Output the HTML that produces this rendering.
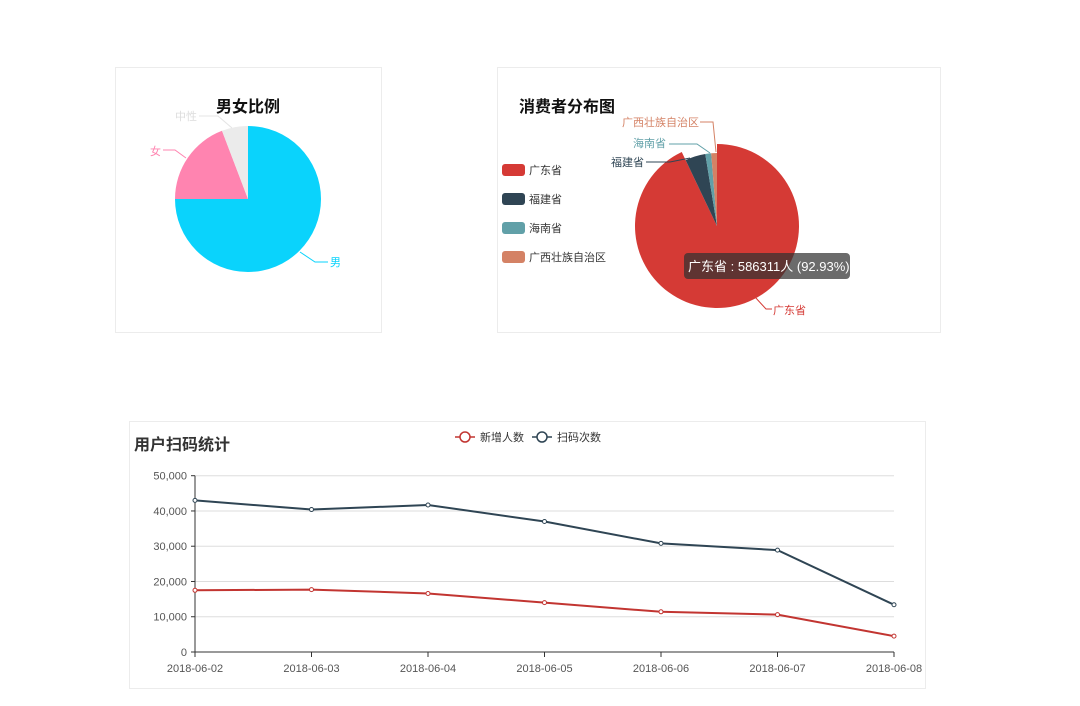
<!DOCTYPE html>
<html><head><meta charset="utf-8"><style>
html,body{margin:0;padding:0;background:#fff;}
body{width:1080px;height:706px;position:relative;overflow:hidden;font-family:"Liberation Sans","Noto Sans CJK SC",sans-serif;}
.panel{position:absolute;border:1px solid #ececec;box-sizing:border-box;}
svg{position:absolute;left:0;top:0;}
svg text{font-family:"Liberation Sans","Noto Sans CJK SC",sans-serif;}
</style></head><body>
<div class="panel" style="left:115px;top:67px;width:267px;height:266px"></div>
<div class="panel" style="left:497px;top:67px;width:444px;height:266px"></div>
<div class="panel" style="left:129px;top:421px;width:797px;height:268px"></div>
<svg id="s" width="1080" height="706"></svg>
<script>
const genderNames=["男","女","中性"];
const genderValues=[75,19.2,5.8];
const genderColors=["#0ad3fc","#ff84b0","#ebebeb"];
const provNames=["广东省","福建省","海南省","广西壮族自治区"];
const provValues=[92.93,4.5,1.3,1.27];
const provColors=["#d53a35","#2f4554","#61a0a8","#d48265"];
const dates=["2018-06-02","2018-06-03","2018-06-04","2018-06-05","2018-06-06","2018-06-07","2018-06-08"];
const newUsers=[17500,17700,16600,14000,11400,10600,4500];
const scans=[43000,40400,41700,37000,30800,28900,13400];
const yTicks=[0,10000,20000,30000,40000,50000];

const NS="http://www.w3.org/2000/svg";
const svg=document.getElementById('s');
function mk(t,a,p){const e=document.createElementNS(NS,t);for(const k in a)e.setAttribute(k,a[k]);(p||svg).appendChild(e);return e;}
function txt(x,y,s,a){const e=mk('text',Object.assign({x:x,y:y},a));e.textContent=s;return e;}
function pt(cx,cy,r,ang){return [cx+r*Math.sin(ang),cy-r*Math.cos(ang)];}
function arc(cx,cy,r,a0,a1){const p0=pt(cx,cy,r,a0),p1=pt(cx,cy,r,a1);const lg=(a1-a0)>Math.PI?1:0;return `M${cx},${cy}L${p0[0]},${p0[1]}A${r},${r} 0 ${lg} 1 ${p1[0]},${p1[1]}Z`;}

// gender pie
let t=mk('text',{x:248,y:112,'text-anchor':'middle','font-size':16,'font-weight':'bold',fill:'#111'});t.textContent="男女比例";

let tot=genderValues.reduce((a,b)=>a+b,0),a=0;
genderValues.forEach((v,i)=>{const a1=a+v/tot*2*Math.PI;const p=mk('path',{d:arc(248,199,73,a,a1),fill:genderColors[i]});
a=a1;});
mk('polyline',{points:"300,252 315,262 328,262",fill:'none',stroke:'#0ad3fc'});
txt(330,266,"男",{'font-size':11,fill:'#0ad3fc'});
mk('polyline',{points:"186,158 175,150 163,150",fill:'none',stroke:'#ff84b0'});
txt(150,155,"女",{'font-size':11,fill:'#ff84b0'});
mk('polyline',{points:"232,128 218,116 199,116",fill:'none',stroke:'#e4e4e4'});
txt(175,120,"中性",{'font-size':11,fill:'#ddd'});

// province pie
t=txt(519,112,"消费者分布图",{'font-size':16,'font-weight':'bold',fill:'#111'});

provNames.forEach((n,i)=>{const y=170+i*29;const r=mk('rect',{x:502,y:y-6,width:23,height:12,rx:3,fill:provColors[i]});

const l=txt(529,y+4,n,{'font-size':11,fill:'#333'});});
tot=provValues.reduce((a,b)=>a+b,0);a=0;
provValues.forEach((v,i)=>{const a1=a+v/tot*2*Math.PI;const r=i==0?82:73;const p=mk('path',{d:arc(717,226,r,a,a1),fill:provColors[i]});
a=a1;});
mk('polyline',{points:"755,297 766,309 772,309",fill:'none',stroke:'#d53a35'});
txt(773,314,"广东省",{'font-size':11,fill:'#d53a35'});
mk('polyline',{points:"690,158 670,162 646,162",fill:'none',stroke:'#2f4554'});
txt(611,166,"福建省",{'font-size':11,fill:'#2f4554'});
mk('polyline',{points:"710,153 697,144 669,144",fill:'none',stroke:'#61a0a8'});
txt(633,147,"海南省",{'font-size':11,fill:'#61a0a8'});
mk('polyline',{points:"716,152 713,122 700,122",fill:'none',stroke:'#d48265'});
txt(622,126,"广西壮族自治区",{'font-size':11,fill:'#d48265'});
const tip=mk('rect',{x:684,y:253,width:166,height:26,rx:4,fill:'rgba(50,50,50,0.72)'});

txt(688,271,"广东省 : 586311人 (92.93%)",{'font-size':13,fill:'#fff'});

// line chart
t=txt(134,450,"用户扫码统计",{'font-size':16,'font-weight':'bold',fill:'#333'});

const X0=195,X1=894,Y0=652,Y1=475.7,YMAX=50000;
const xs=i=>X0+(X1-X0)*i/(dates.length-1);
const ys=v=>Y0-(Y0-Y1)*v/YMAX;
yTicks.forEach(v=>{if(v>0)mk('line',{x1:X0,x2:X1,y1:ys(v),y2:ys(v),stroke:'#ddd'});
mk('line',{x1:X0-4,x2:X0,y1:ys(v),y2:ys(v),stroke:'#333'});
const l=txt(X0-8,ys(v)+4,v.toLocaleString('en-US'),{'font-size':11,fill:'#555','text-anchor':'end'});});
mk('line',{x1:X0,x2:X0,y1:Y1,y2:Y0,stroke:'#333'});
mk('line',{x1:X0,x2:X1,y1:Y0,y2:Y0,stroke:'#333'});
dates.forEach((d,i)=>{mk('line',{x1:xs(i),x2:xs(i),y1:Y0,y2:Y0+5,stroke:'#333'});
const l=txt(xs(i),Y0+20,d,{'font-size':11,fill:'#555','text-anchor':'middle'});});
[[newUsers,'#c23531','new-users'],[scans,'#2f4554','scans']].forEach(([arr,c,n])=>{
const l=mk('polyline',{points:arr.map((v,i)=>xs(i)+','+ys(v)).join(' '),fill:'none',stroke:c,'stroke-width':2});

arr.forEach((v,i)=>{const p=mk('circle',{cx:xs(i),cy:ys(v),r:2,fill:'#fff',stroke:c});});});
// legend
[['新增人数','#c23531',455],['扫码次数','#2f4554',532]].forEach(([n,c,x])=>{
mk('line',{x1:x,x2:x+20,y1:437,y2:437,stroke:c,'stroke-width':1.5});
mk('circle',{cx:x+10,cy:437,r:5,fill:'#fff',stroke:c,'stroke-width':1.5});
const l=txt(x+25,441,n,{'font-size':11,fill:'#333'});});
</script>
</body></html>
